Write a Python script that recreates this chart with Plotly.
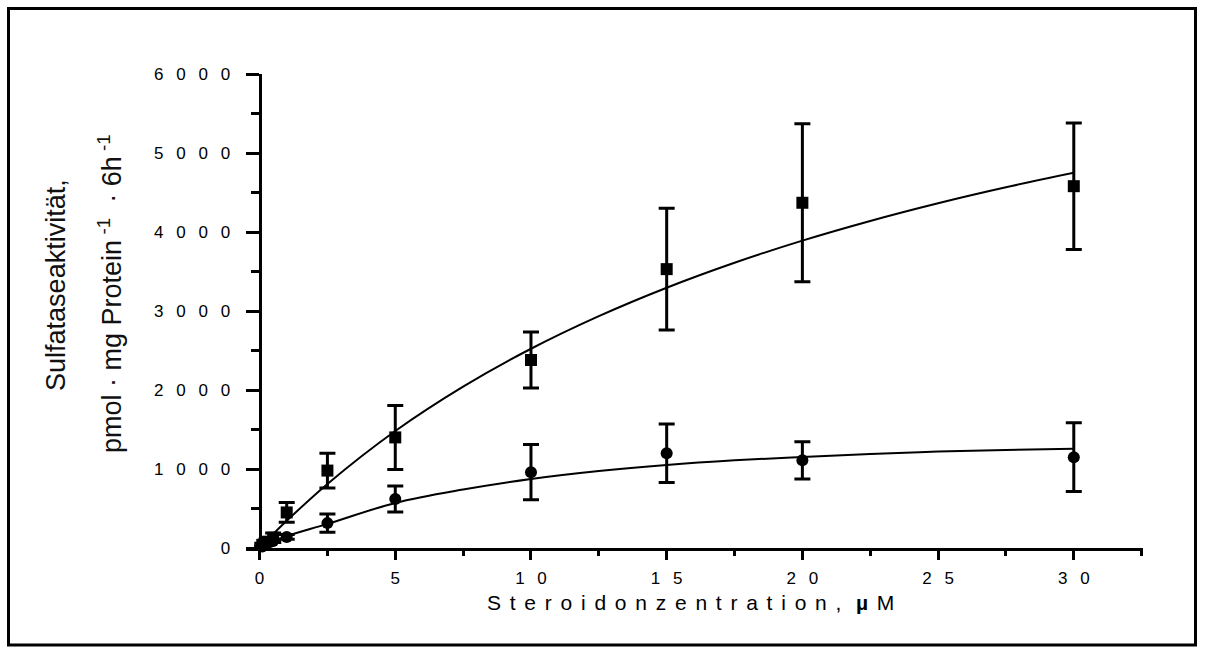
import plotly.graph_objects as go

# Steroid concentration (µM) and measured sulfatase activity
conc = [0.1, 0.25, 0.5, 1, 2.5, 5, 10, 15, 20, 30]
act_square = [40, 80, 130, 450, 980, 1400, 2380, 3530, 4370, 4580]
err_square = [20, 30, 60, 125, 220, 405, 355, 770, 1000, 800]
act_circle = [20, 50, 90, 140, 315, 620, 960, 1200, 1110, 1150]
err_circle = [10, 15, 20, 30, 115, 165, 350, 370, 235, 435]

# Saturation fit curves
fit_conc = [0, 0.5, 1, 2.5, 5, 7.5, 10, 12.5, 15, 17.5, 20, 22.5, 25, 27.5, 30]
fit_square = [0, 176, 344, 811, 1481, 2043, 2522, 2935, 3295, 3611, 3891, 4140, 4364, 4566, 4749]
fit_circle = [0, 80, 150, 305, 570, 740, 874, 975, 1052, 1110, 1153, 1190, 1220, 1240, 1255]

x_ticks = [0, 5, 10, 15, 20, 25, 30]
y_ticks = [0, 1000, 2000, 3000, 4000, 5000, 6000]

x_range = [-0.5, 32.55]
y_range = [0, 6000]

TICK_GAP = "\u2002\u2005"    # wide letter spacing for tick numbers
TITLE_GAP = "\u2004\u200a"   # letter spacing for the x-axis title


def spaced(s, gap):
    return gap.join(list(s))


FONT = "Liberation Sans, Arial, sans-serif"

fig = go.Figure()

fig.add_trace(go.Scatter(
    x=fit_conc, y=fit_square, mode="lines", line=dict(color="black", width=2, shape="spline"),
    hoverinfo="skip", showlegend=False, cliponaxis=False))
fig.add_trace(go.Scatter(
    x=fit_conc, y=fit_circle, mode="lines", line=dict(color="black", width=2, shape="spline"),
    hoverinfo="skip", showlegend=False, cliponaxis=False))

fig.add_trace(go.Scatter(
    x=conc, y=act_square, mode="markers",
    marker=dict(symbol="square", size=12, color="black"),
    error_y=dict(type="data", array=err_square, thickness=3, width=8, color="black"),
    showlegend=False, cliponaxis=False))
fig.add_trace(go.Scatter(
    x=conc, y=act_circle, mode="markers",
    marker=dict(symbol="circle", size=12, color="black"),
    error_y=dict(type="data", array=err_circle, thickness=3, width=8, color="black"),
    showlegend=False, cliponaxis=False))

y_pos = (0 - x_range[0]) / (x_range[1] - x_range[0])

fig.update_layout(
    width=1206, height=653, autosize=False,
    margin=dict(l=246, r=63, t=74, b=105, pad=0),
    paper_bgcolor="white", plot_bgcolor="white",
    font=dict(family=FONT, size=17, color="black"),
    xaxis=dict(
        range=x_range, showgrid=False, zeroline=False,
        showline=True, linecolor="black", linewidth=3,
        ticks="outside", ticklen=9, tickwidth=3, tickcolor="black",
        tickvals=x_ticks, ticktext=[spaced(str(v), TICK_GAP) for v in x_ticks],
        tickfont=dict(family=FONT, size=17, color="black"),
        ticklabelstandoff=4,
        minor=dict(dtick=2.5, tick0=0, ticks="outside", ticklen=5, tickwidth=3, tickcolor="black"),
    ),
    yaxis=dict(
        range=y_range, showgrid=False, zeroline=False,
        anchor="free", position=y_pos,
        showline=True, linecolor="black", linewidth=3,
        ticks="outside", ticklen=13, tickwidth=3, tickcolor="black",
        tickvals=y_ticks, ticktext=[spaced(str(v), TICK_GAP) for v in y_ticks],
        tickfont=dict(family=FONT, size=17, color="black"),
        ticklabelstandoff=12,
        minor=dict(dtick=500, tick0=0, ticks="outside", ticklen=8, tickwidth=3, tickcolor="black"),
    ),
)

# Axis titles
fig.add_annotation(
    xref="paper", yref="paper", x=0.496, y=-0.116,
    text=spaced("Steroidonzentration,", TITLE_GAP) + TITLE_GAP + " " + "<b>µ</b>" + TITLE_GAP + "M",
    showarrow=False, font=dict(family=FONT, size=21, color="black"),
    xanchor="center", yanchor="middle")

fig.add_annotation(
    xref="paper", yref="paper", x=-0.2118, y=0.555,
    text="Sulfataseaktivität,", textangle=-90,
    showarrow=False, font=dict(family=FONT, size=27, color="#111"),
    xanchor="center", yanchor="middle")
fig.add_annotation(
    xref="paper", yref="paper", x=-0.1516, y=0.536,
    text="pmol · mg Protein<sup> -1</sup>  · 6h<sup> -1</sup>", textangle=-90,
    showarrow=False, font=dict(family=FONT, size=27, color="#111"),
    xanchor="center", yanchor="middle")

# Outer frame around the whole figure
fig.add_shape(
    type="rect", xref="paper", yref="paper",
    x0=(8.5 - 246) / 897, x1=(1195.5 - 246) / 897,
    y0=(548 - 645) / 474, y1=(548 - 8.5) / 474,
    line=dict(color="black", width=3), fillcolor="rgba(0,0,0,0)", layer="above")

fig.write_html("out.html")
